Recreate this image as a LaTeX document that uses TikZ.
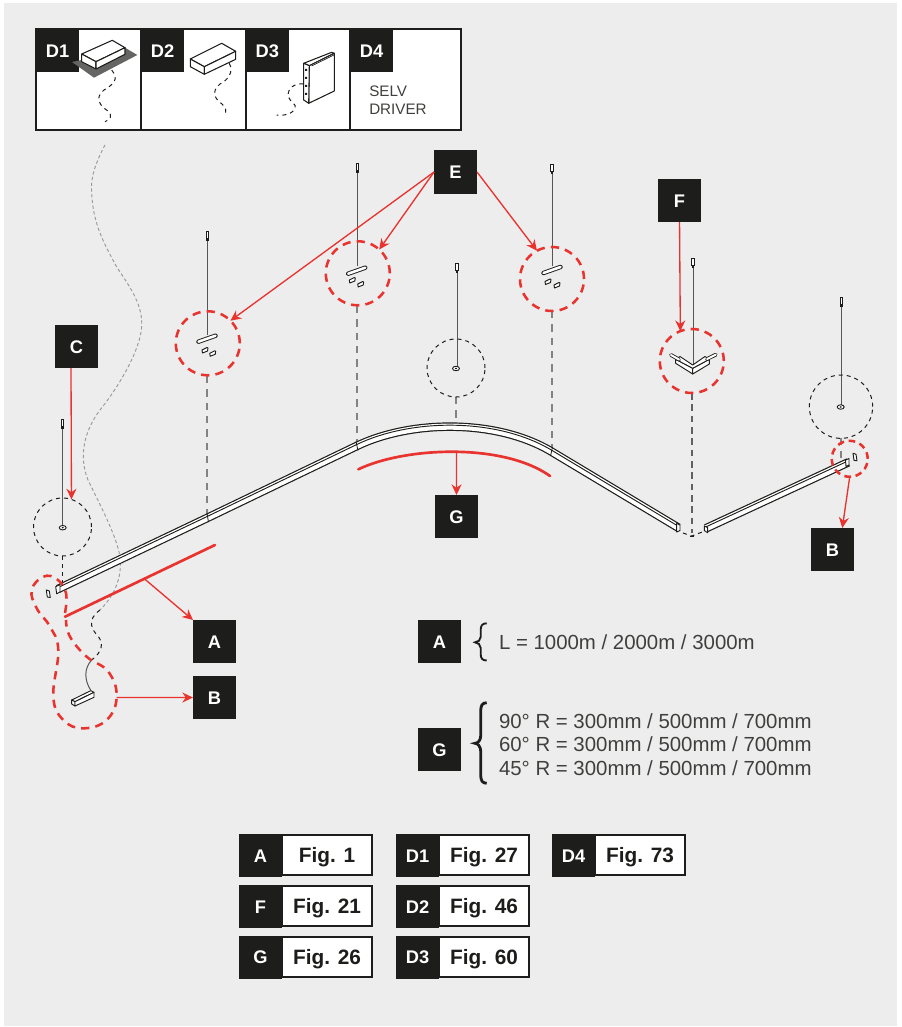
\documentclass[tikz,border=0pt]{standalone}
\usepackage{fontspec}
\setmainfont{Liberation Sans}
\usetikzlibrary{arrows.meta}
\definecolor{bgc}{HTML}{EDEDED}
\definecolor{ink}{HTML}{1D1D1B}
\definecolor{redc}{HTML}{E8332F}
\tikzset{
  lab/.style={fill=ink,text=white,font=\fontsize{13.7}{15}\selectfont\bfseries,minimum width=32.3pt,minimum height=32.3pt,inner sep=0,outer sep=0,text height=9.8pt,text depth=0pt},
  figbox/.style={draw=ink,line width=1.5pt,fill=white,font=\fontsize{15.6}{17}\selectfont\bfseries,text=ink,minimum height=30.3pt,inner sep=0,outer sep=0,text height=11.2pt,text depth=0pt},
  legend/.style={anchor=west,inner sep=0,outer sep=0,text=ink!85,font=\fontsize{15.3}{17}\selectfont},
  redarrow/.style={draw=redc,line width=1pt,-{Stealth[length=8pt,width=7.5pt]}},
  redmark/.style={draw=redc,line width=2pt,line cap=round},
  redcirc/.style={circle,draw=redc,line width=1.9pt,dash pattern=on 6.2pt off 4.6pt,inner sep=0,outer sep=0},
  blackcirc/.style={circle,draw=ink,line width=.75pt,dash pattern=on 3pt off 3pt,inner sep=0,outer sep=0},
  drop/.style={draw=ink!55,line width=1.3pt,dash pattern=on 5.5pt off 4.5pt},
  dropthin/.style={draw=ink,line width=.75pt,dash pattern=on 3pt off 3pt},
  cablegray/.style={draw=black!40,line width=.7pt,dash pattern=on 2.5pt off 1.8pt},
  wire/.style={draw=ink!75,line width=.75pt},
  icon/.style={draw=ink,line width=.8pt,fill=white,line join=round},
  part/.style={draw=ink,line width=.7pt,fill=white,line join=round},
}
\newcommand{\hanger}[3]{% x, top y, bottom y
  \draw[wire] (#1,#2) -- (#1,#3);
  \draw[draw=ink,line width=.6pt,fill=white] (#1-1.3,#2-1) rectangle (#1+1.3,#2+6);
  \fill[ink] (#1-1.2,#2+6) rectangle (#1+1.2,#2+9);
}
\newcommand{\slotat}[2]{%
  \draw[ink,line width=3.3pt,line cap=round] (#1-8.5,#2+3) -- (#1+8.5,#2-3);
  \draw[white,line width=1.9pt,line cap=round] (#1-8.5,#2+3) -- (#1+8.5,#2-3);
}
\newcommand{\clipat}[2]{%
  \draw[part] (#1-3,#2) -- (#1+2,#2-2.5) -- (#1+3,#2-2) -- (#1+2.5,#2+1) -- (#1-2.5,#2+3) -- cycle;
}
\newcommand{\plateat}[2]{%
  \draw[part] (#1-2,#2-4) -- (#1+1,#2-3) -- (#1+2,#2+3.5) -- (#1-1,#2+3) -- cycle;
}
\newcommand{\anchorat}[2]{%
  \draw[part] (#1,#2) ellipse (3.5 and 2.2);
  \fill[ink] (#1,#2) ellipse (1.2 and .8);
}
\newcommand{\trackpath}[2]{%
  \draw[ink,line width=6.4pt] #2;
  \draw[white,line width=4.6pt] #2;
  \draw[ink,line width=.7pt,yshift=#1pt] #2;
}
\newcommand{\figrow}[6]{% name, x of left, y top, label, text, white width
  \node[figbox,anchor=north west,minimum width=#6] (#1w) at (#2+43,#3+1) {#5};
  \node[lab,anchor=north west] (#1) at (#2,#3) {#4};
}
\begin{document}
\begin{tikzpicture}[x=.75pt,y=-.75pt]
\useasboundingbox (0,0) rectangle (902,1027);
\fill[white] (0,0) rectangle (902,1027);
\fill[bgc] (4,3) rectangle (897,1026);

% ---- top panel
\draw[draw=ink,line width=1.5pt,fill=white] (36,29) rectangle (461,130);
\draw[ink,line width=1.5pt] (141,29) -- (141,130) (245.7,29) -- (245.7,130) (350,29) -- (350,130);
\node[lab,anchor=north west] (D1) at (36,29) {D1};
\node[lab,anchor=north west] (D2) at (141,29) {D2};
\node[lab,anchor=north west] (D3) at (245.7,29) {D3};
\node[lab,anchor=north west] (D4) at (350,29) {D4};
\node[anchor=west,align=left,inner sep=0,text=ink!85,font=\fontsize{11.4}{13.5}\selectfont] (selv) at (369,100) {SELV\\DRIVER};
% D1 icon
\fill[ink!68] (72,62) -- (94,77.7) -- (137.3,55) -- (125,47.7) -- (96,62) -- (82,60) -- cycle;
\draw[icon] (81.7,54) -- (112.3,40.3) -- (125,47.7) -- (96,61.7) -- cycle;
\draw[icon] (81.7,54) -- (81.7,61.7) -- (96,69) -- (96,61.7) -- cycle;
\draw[icon] (96,69) -- (125,54.3) -- (125,47.7) -- (96,61.7) -- cycle;
\draw[dropthin] (111.7,70) .. controls (120,80) and (112,85) .. (104,90) .. controls (94,98) and (100,106) .. (108,111) .. controls (113,116) and (110,120) .. (105,121.7);
% D2 icon
\draw[icon] (190.3,59) -- (221.7,43.3) -- (235.7,51.3) -- (204.3,66.7) -- cycle;
\draw[icon] (190.3,59) -- (190.3,66.7) -- (204.3,74.3) -- (204.3,66.7) -- cycle;
\draw[icon] (204.3,74.3) -- (235.7,59.3) -- (235.7,51.3) -- (204.3,66.7) -- cycle;
\draw[dropthin] (229.3,63.3) .. controls (234,72) and (228,80) .. (220,84) .. controls (210,92) and (216,100) .. (222,104) .. controls (227,108) and (226,112) .. (225,116);
% D3 icon
\draw[icon] (303.7,63.3) -- (331.7,52.3) -- (334.3,53.3) -- (309.3,65.7) -- cycle;
\draw[icon] (309.3,65.7) -- (334.3,53.3) -- (334.3,91) -- (308.7,103.3) -- cycle;
\draw[icon] (303.7,63.3) -- (309.3,65.7) -- (308.7,103.3) -- (303.7,100) -- cycle;
\draw[ink,line width=.5pt] (311.5,66) -- (334,55);
\fill[ink] (305,69) rectangle (307,71) (305,77) rectangle (307,79) (305,85) rectangle (307,87) (305,93) rectangle (307,95);
\draw[dropthin] (303.3,84) .. controls (295,83) and (287,88) .. (288.3,96.7) .. controls (290,102) and (297,104) .. (295,108.3) .. controls (292,115) and (282,116) .. (276.7,115);

% ---- long grey cable
\draw[cablegray] (105,145) .. controls (96,162) and (90,178) .. (91.7,193) .. controls (93,225) and (105,245) .. (116.7,267) .. controls (130,287) and (143,305) .. (141.7,327) .. controls (140,350) and (120,385) .. (100,410) .. controls (85,430) and (78,455) .. (88,480) .. controls (95,495) and (114,530) .. (119,552) .. controls (124,575) and (115,595) .. (100,610);
\draw[dropthin] (100,610) .. controls (86,620) and (92,630) .. (98,636) .. controls (104,644) and (102,652) .. (91.7,660);
\draw[wire] (91.7,660) .. controls (84,668) and (84,680) .. (91,690.7);

% ---- drops
\draw[drop] (207,376) -- (207,517);
\draw[drop] (357,306) -- (357,443);
\draw[drop] (456,397) -- (456,424);
\draw[drop] (552,311) -- (552,448);
\draw[draw=ink!70,line width=.8pt,dash pattern=on 5pt off 3.5pt] (692,393) -- (692,533);
\draw[dropthin] (683,533) -- (691.7,536) -- (703,531.7);
\draw[dropthin] (62.5,556) -- (62.5,582);
\draw[drop] (841,438) -- (841,458);
\draw[ink,line width=.5pt] (689.7,536) -- (693.7,536);

% ---- track
\trackpath{1.1}{(58,589) -- (207.7,517.7) -- (356.7,446) .. controls (411.4,419.7) and (497,418.9) .. (551.7,451.7) -- (678.3,527.7)}
\trackpath{1.1}{(706,528.3) -- (848.3,462.3)}
\draw[part] (55.7,586.7) -- (60,584.5) -- (60,592) -- (56.7,593.8) -- cycle;
\draw[part] (676.7,523.3) -- (680,525) -- (680,530.5) -- (676.7,532) -- cycle;
\draw[part] (704.3,526) -- (707.7,527.7) -- (707.7,532.8) -- (704.3,530.5) -- cycle;
\draw[part] (845.5,460) -- (849,458.5) -- (849,465) -- (846,466.5) -- cycle;
\draw[ink,line width=.6pt] (207,513.5) -- (208.5,522) (356,441.5) -- (358,450.5) (552.5,447) -- (550.5,456);

% ---- hangers
\hanger{207.5}{232}{335}
\hanger{357.5}{164}{266}
\hanger{552}{165}{266}
\hanger{457}{264}{366}
\hanger{693}{259}{365}
\hanger{841.5}{298}{405}
\hanger{62.5}{420}{525}
\slotat{207}{338.7} \clipat{205}{350} \clipat{212.7}{353.3}
\slotat{356.7}{270.7} \clipat{352.3}{280} \clipat{360.7}{284}
\slotat{552}{270} \clipat{548}{281.5} \clipat{557}{285}
\anchorat{456}{368.5}
\anchorat{840.7}{407}
\anchorat{62.7}{527.7}
\plateat{48.3}{594}
\plateat{855}{457.3}

% ---- corner joint F
\draw[part] (675.7,359.3) -- (675.7,363.3) -- (692.7,374) -- (692.7,368.3) -- cycle;
\draw[part] (692.7,374) -- (709.3,364) -- (709.3,359.3) -- (692.7,368.3) -- cycle;
\draw[part] (675.7,359.3) -- (680,356.5) -- (692.7,365) -- (705,356.5) -- (709.3,359.3) -- (692.7,368.3) -- cycle;
\draw[ink,line width=2.8pt,line cap=round] (671,355) -- (679,359.5) (707,359) -- (715.7,354.7);
\draw[white,line width=1.5pt,line cap=round] (671,355) -- (679,359.5) (707,359) -- (715.7,354.7);

% ---- connector box
\draw[part] (71.7,700) -- (90.7,690.7) -- (94,692.3) -- (75,701.7) -- cycle;
\draw[part] (71.7,700) -- (71.7,704) -- (75,706) -- (75,701.7) -- cycle;
\draw[part] (75,706) -- (94,697.3) -- (94,692.3) -- (75,701.7) -- cycle;

% ---- circles
\node[redcirc,minimum size=48pt] (cE1) at (207.8,343.3) {};
\node[redcirc,minimum size=48pt] (cE2) at (357.8,273.3) {};
\node[redcirc,minimum size=48pt] (cE3) at (552,279) {};
\node[redcirc,minimum size=48pt] (cF) at (691.8,361) {};
\node[redcirc,minimum size=27pt,dash pattern=on 5pt off 3.5pt] (cB) at (849.7,458.8) {};
\node[blackcirc,minimum size=43.5pt] (cC) at (62.5,527) {};
\node[blackcirc,minimum size=43.5pt] (cM) at (456,368) {};
\node[blackcirc,minimum size=47.5pt] (cR) at (841,406.7) {};

% ---- red blob
\draw[redc,line width=1.9pt,dash pattern=on 6.2pt off 4.6pt] plot[smooth,tension=.7] coordinates {(65,613) (66,593) (56.7,579) (43.3,576.7) (31.7,590) (36.7,608.3) (50,626.7) (58.3,650) (53.3,696.7) (63.3,720) (83.3,728.3) (106.7,720) (116.7,696.7) (108.3,671.7) (86.7,656.7) (70,636.7) (66,620)};
\coordinate (blobR) at (116.7,697.5);

% ---- red marks
\draw[redmark] (215,545) -- (65,616.7);
\coordinate (markA) at (145,579.3);
\draw[redmark] (358.3,469.3) .. controls (405,447) and (503,442.6) .. (550,476);
\coordinate (markG) at (456.5,451);

% ---- labels
\node[lab,anchor=north west] (E) at (434,150.5) {E};
\node[lab,anchor=north west] (F) at (658,179) {F};
\node[lab,anchor=north west] (C) at (55,325) {C};
\node[lab,anchor=north west] (A) at (193,620) {A};
\node[lab,anchor=north west] (B) at (193,676) {B};
\node[lab,anchor=north west] (G) at (435,495) {G};
\node[lab,anchor=north west] (B2) at (811,528) {B};
\node[lab,anchor=north west] (LA) at (418,620) {A};
\node[lab,anchor=north west] (LG) at (418,728) {G};

% ---- arrows
\draw[redarrow] (E.west) -- (cE1.45);
\draw[redarrow] (E.west) -- (cE2.48);
\draw[redarrow] (E.east) -- (cE3.118);
\draw[redarrow] (F.south) -- (cF.111);
\draw[redarrow] (71,368) -- (cC.72);
\draw[redarrow] (markA) -- (A.north west);
\draw[redarrow] (blobR) -- (B.west);
\draw[redarrow] (markG) -- (G.north);
\draw[redarrow] (cB.270) -- (842.3,528);

% ---- legend
\draw[ink,line width=1.4pt] (486.7,623.3) .. controls (482,623.3) and (480.7,626) .. (480.7,630) -- (480.7,637) .. controls (480.7,640) and (478,642.3) .. (475,642.3) .. controls (478,642.3) and (480.7,645) .. (480.7,648) -- (480.7,654) .. controls (480.7,658) and (482,660.5) .. (486.7,660.5);
\draw[ink,line width=2.1pt] (486.7,702.7) .. controls (482,702.7) and (480.7,706) .. (480.7,711) -- (480.7,736) .. controls (480.7,740) and (478,743.3) .. (475,743.3) .. controls (478,743.3) and (480.7,747) .. (480.7,751) -- (480.7,775) .. controls (480.7,780) and (482,783.3) .. (486.7,783.3);
\node[legend] (tA) at (499,642.5) {L = 1000m / 2000m / 3000m};
\node[legend] (t90) at (499,721) {90° R = 300mm / 500mm / 700mm};
\node[legend] (t60) at (499,744.5) {60° R = 300mm / 500mm / 700mm};
\node[legend] (t45) at (499,768) {45° R = 300mm / 500mm / 700mm};

% ---- figure table
\figrow{ra}{239}{834}{A}{Fig. 1}{67.5pt}
\figrow{rf}{239}{885}{F}{Fig. 21}{67.5pt}
\figrow{rg}{239}{935.5}{G}{Fig. 26}{67.5pt}
\figrow{rd1}{396}{834}{D1}{Fig. 27}{67.5pt}
\figrow{rd2}{396}{885}{D2}{Fig. 46}{67.5pt}
\figrow{rd3}{396}{935.5}{D3}{Fig. 60}{67.5pt}
\figrow{rd4}{552}{834}{D4}{Fig. 73}{67.5pt}
\end{tikzpicture}
\end{document}
